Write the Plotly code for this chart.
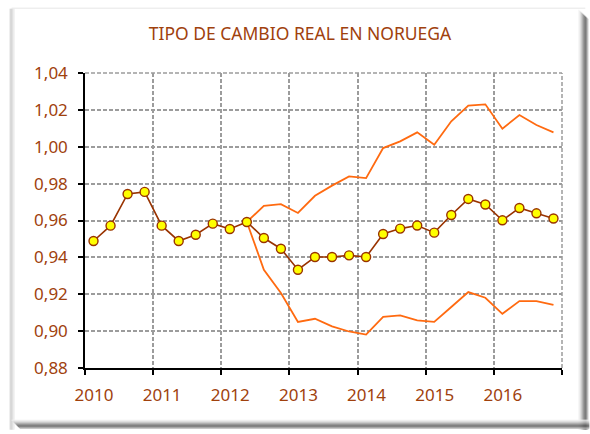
import plotly.graph_objects as go

# ---- data ----
quarters = [f"{y}T{q}" for y in range(2010, 2017) for q in range(1, 5)]
years = ["2010", "2011", "2012", "2013", "2014", "2015", "2016"]
tcr = [0.9489, 0.9572, 0.9744, 0.9755, 0.9572, 0.9489, 0.9523, 0.9583,
       0.9554, 0.9592, 0.9505, 0.9447, 0.9333, 0.9402, 0.9402, 0.9411,
       0.9402, 0.9527, 0.9556, 0.9573, 0.9534, 0.9630, 0.9717, 0.9687,
       0.9601, 0.9668, 0.9639, 0.9611]
band_start = 9
upper = [0.9592, 0.9680, 0.9689, 0.9641, 0.9734, 0.9789, 0.9839, 0.9830,
         0.9993, 1.0029, 1.0078, 1.0011, 1.0138, 1.0223, 1.0230, 1.0098,
         1.0172, 1.0118, 1.0078]
lower = [0.9592, 0.9333, 0.9207, 0.9050, 0.9067, 0.9026, 0.8998, 0.8981,
         0.9077, 0.9085, 0.9058, 0.9050, 0.9131, 0.9212, 0.9181, 0.9094,
         0.9163, 0.9163, 0.9142]
yticks = [0.88, 0.90, 0.92, 0.94, 0.96, 0.98, 1.00, 1.02, 1.04]

W, H = 590, 434
L, R, T, B = 85.3, 28.3, 73.3, 65.7
PW, PH = W - L - R, H - T - B

x_all = list(range(len(quarters)))
x_band = x_all[band_start:]

TXT = "#A0410D"
BROWN = "#993300"
ORANGE = "#FF6A10"
GRID = "#9c9c9c"
DASH = "4px,2px"

fig = go.Figure()
fig.add_trace(go.Scatter(x=x_band, y=upper, mode="lines",
                         line=dict(color=ORANGE, width=1.8), hoverinfo="skip"))
fig.add_trace(go.Scatter(x=x_band, y=lower, mode="lines",
                         line=dict(color=ORANGE, width=1.8), hoverinfo="skip"))
fig.add_trace(go.Scatter(x=x_all, y=tcr, mode="lines+markers",
                         line=dict(color=BROWN, width=1.6),
                         marker=dict(size=9, color="#FFFF00",
                                     line=dict(color=BROWN, width=1.4))))


def px(xp):
    return (xp - L) / PW


def py(yp):
    return (H - B - yp) / PH


shapes = []
# dashed top / right plot border (grid at the range edges)
shapes.append(dict(type="line", xref="paper", yref="paper", x0=0, x1=1, y0=1, y1=1,
                   line=dict(color=GRID, width=1.5, dash=DASH), layer="below"))
shapes.append(dict(type="line", xref="paper", yref="paper", x0=1, x1=1, y0=0, y1=1,
                   line=dict(color=GRID, width=1.5, dash=DASH), layer="below"))
# frame: left edge (light gray), top faint line
for i, c in enumerate(["#d8d8d8", "#c4c4c4", "#cfcfcf", "#dedede", "#ececec"]):
    shapes.append(dict(type="line", xref="paper", yref="paper",
                       x0=px(10.5 + i), x1=px(10.5 + i), y0=py(9), y1=py(430),
                       line=dict(color=c, width=1)))
shapes.append(dict(type="line", xref="paper", yref="paper",
                   x0=px(12), x1=px(585), y0=py(8.5), y1=py(8.5),
                   line=dict(color="#e6e6e6", width=1)))
# right shadow
for i, c in enumerate(["#f4f4f4", "#e8e8e8", "#d4d4d4", "#b8b8b8", "#999999",
                       "#7a7a7a", "#606060", "#555555", "#7a7a7a", "#b0b0b0"]):
    shapes.append(dict(type="line", xref="paper", yref="paper",
                       x0=px(578.5 + i), x1=px(578.5 + i), y0=py(10 + i), y1=py(430),
                       line=dict(color=c, width=1)))
# bottom shadow
for i, c in enumerate(["#f0f0f0", "#e0e0e0", "#c8c8c8", "#a8a8a8", "#888888",
                       "#666666", "#555555", "#7a7a7a", "#b0b0b0"]):
    shapes.append(dict(type="line", xref="paper", yref="paper",
                       x0=px(12 + i), x1=px(589), y0=py(420.5 + i), y1=py(420.5 + i),
                       line=dict(color=c, width=1)))

fig.update_layout(
    width=W, height=H,
    margin=dict(l=L, r=R, t=T, b=B),
    paper_bgcolor="white", plot_bgcolor="white",
    showlegend=False,
    separators=",.",
    font=dict(family="Noto Sans", color=TXT, size=17),
    title=dict(text="TIPO DE CAMBIO REAL EN NORUEGA", x=300 / W, xanchor="center",
               y=1 - 33.7 / H, yanchor="middle", yref="container",
               font=dict(family="Noto Sans", size=17.5, color=TXT)),
    shapes=shapes,
    xaxis=dict(range=[-0.5, len(quarters) - 0.5], tickmode="array",
               tickvals=[i * 4 - 0.5 for i in range(len(years) + 1)],
               ticktext=years + [""], ticklabelshift=9,
               showline=True, linecolor="black", linewidth=1.5,
               ticks="outside", ticklen=5, tickcolor="black", tickwidth=1.5,
               showgrid=True, gridcolor=GRID, griddash=DASH, gridwidth=1.5,
               zeroline=False, ticklabelstandoff=6,
               tickfont=dict(size=17, color=TXT)),
    yaxis=dict(range=[0.88, 1.04], tickmode="array", tickvals=yticks,
               tickformat=".2f",
               showline=True, linecolor="black", linewidth=1.5,
               ticks="outside", ticklen=5, tickcolor="black", tickwidth=1.5,
               showgrid=True, gridcolor=GRID, griddash=DASH, gridwidth=1.5,
               zeroline=False, ticklabelstandoff=7,
               tickfont=dict(size=17, color=TXT)),
)

fig.write_html("out.html", config={"displayModeBar": False},
               post_script="document.body.style.margin='0';")
